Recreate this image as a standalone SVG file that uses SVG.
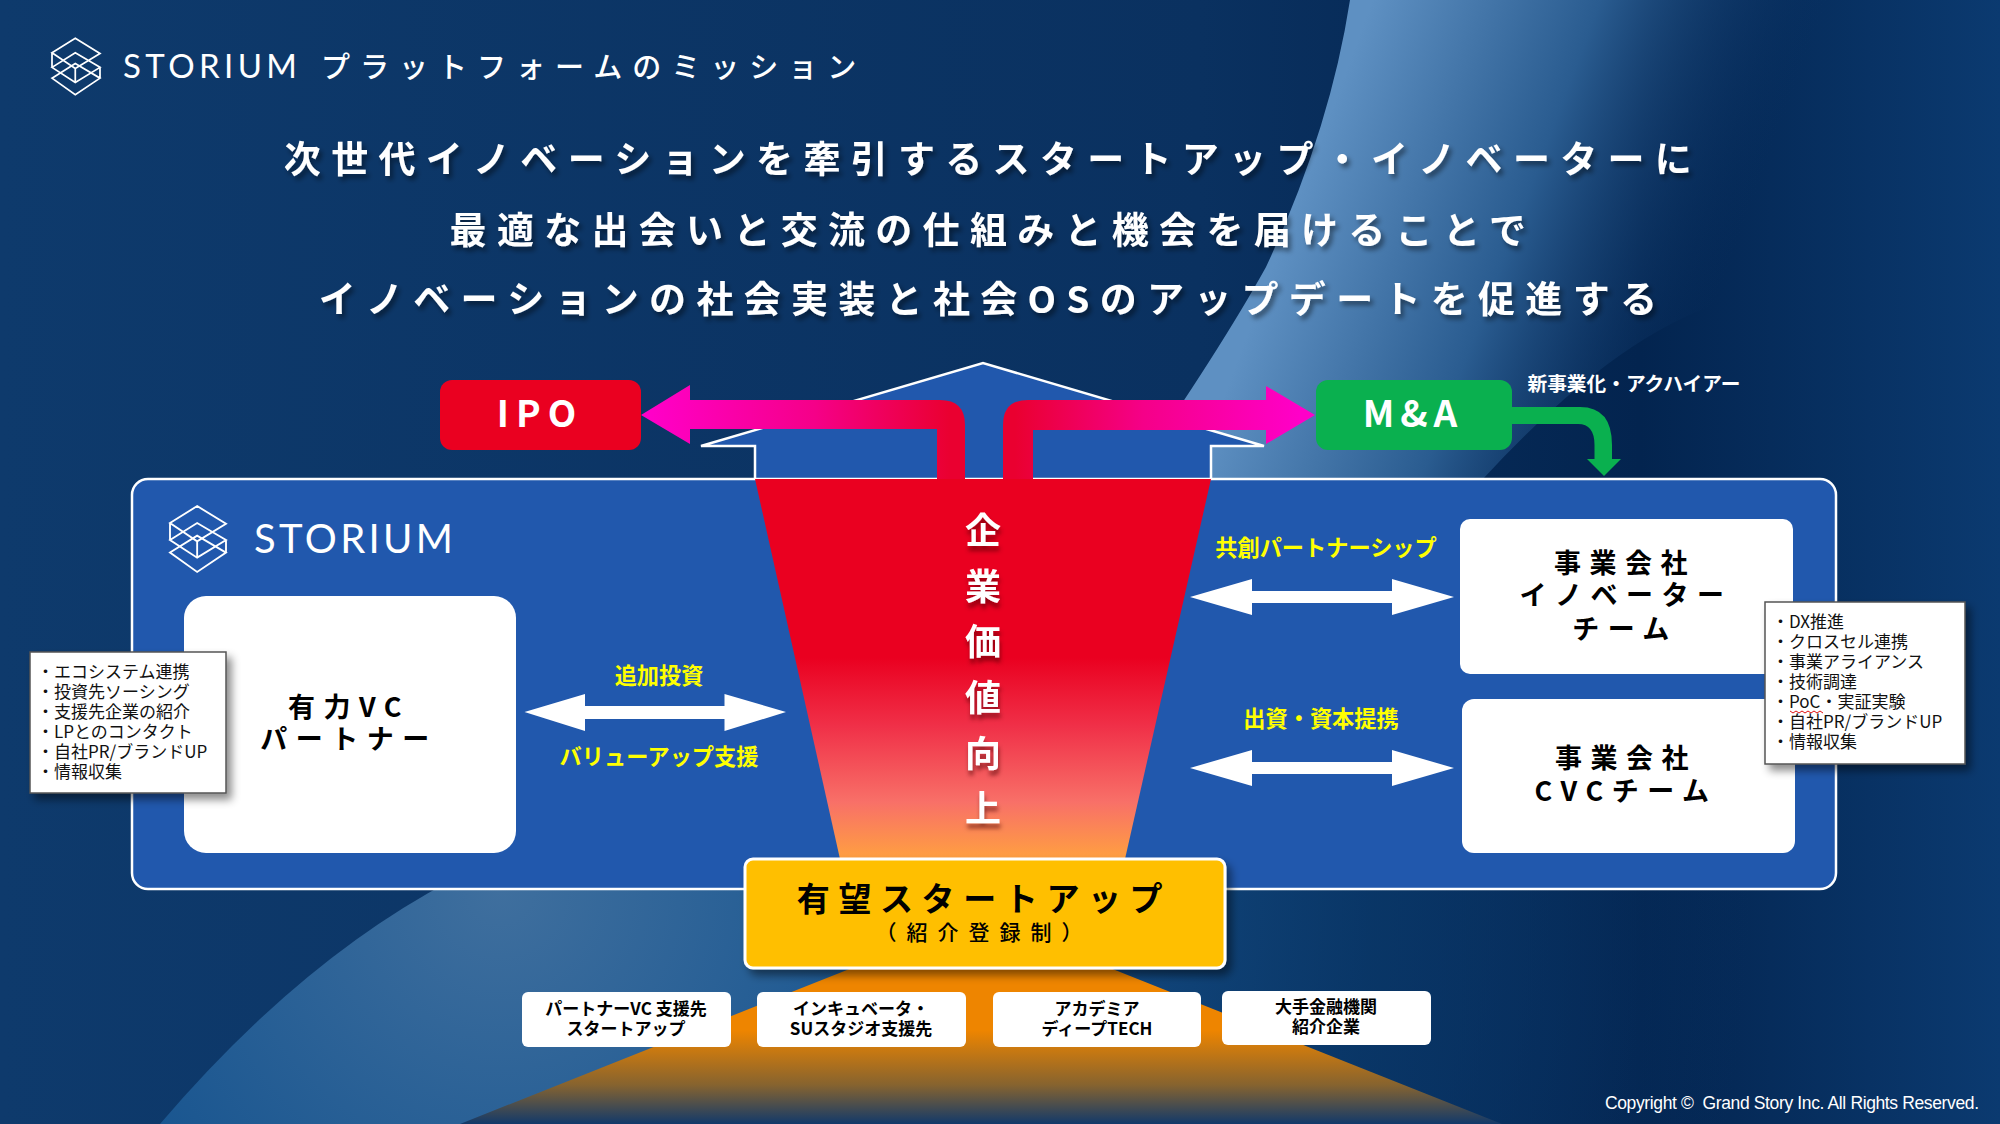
<svg xmlns="http://www.w3.org/2000/svg" width="2000" height="1124" viewBox="0 0 2000 1124">
<defs>
<linearGradient id="bg" x1="0" y1="0" x2="2000" y2="0" gradientUnits="userSpaceOnUse"><stop offset="0" stop-color="#0e3a6c"/><stop offset="0.6" stop-color="#0a3160"/><stop offset="0.82" stop-color="#03244f"/><stop offset="1" stop-color="#0b3a70"/></linearGradient>
<linearGradient id="sw" x1="1350" y1="60" x2="1750" y2="210" gradientUnits="userSpaceOnUse"><stop offset="0" stop-color="#5e90c2"/><stop offset="0.5" stop-color="#2a5c90"/><stop offset="1" stop-color="#0a3264" stop-opacity="0"/></linearGradient>
<radialGradient id="bs" cx="500" cy="890" r="1250" gradientUnits="userSpaceOnUse"><stop offset="0" stop-color="#3f6f9e"/><stop offset="0.33" stop-color="#1a5690"/><stop offset="0.7" stop-color="#0a3a6c" stop-opacity="0.7"/><stop offset="1" stop-color="#0b3a70" stop-opacity="0"/></radialGradient>
<linearGradient id="fun" x1="0" y1="479" x2="0" y2="859" gradientUnits="userSpaceOnUse"><stop offset="0.47" stop-color="#ea0020"/><stop offset="0.65" stop-color="#f03048"/><stop offset="0.85" stop-color="#f87068"/><stop offset="1" stop-color="#ffa040"/></linearGradient>
<linearGradient id="org" x1="0" y1="968" x2="0" y2="1124" gradientUnits="userSpaceOnUse"><stop offset="0.4" stop-color="#ee8500"/><stop offset="0.75" stop-color="#86632f"/><stop offset="1" stop-color="#12396a"/></linearGradient>
<linearGradient id="mgL" x1="650" y1="0" x2="950" y2="0" gradientUnits="userSpaceOnUse"><stop offset="0" stop-color="#ff00c8"/><stop offset="0.55" stop-color="#f50088"/><stop offset="1" stop-color="#ea0030"/></linearGradient>
<linearGradient id="mgR" x1="1300" y1="0" x2="1015" y2="0" gradientUnits="userSpaceOnUse"><stop offset="0" stop-color="#ff00c8"/><stop offset="0.55" stop-color="#f50088"/><stop offset="1" stop-color="#ea0030"/></linearGradient>
<filter id="ts" x="-10%" y="-30%" width="120%" height="170%"><feDropShadow dx="3" dy="4" stdDeviation="2.5" flood-color="#000" flood-opacity="0.45"/></filter>
<filter id="ts2" x="-30%" y="-10%" width="170%" height="120%"><feDropShadow dx="1" dy="5" stdDeviation="2" flood-color="#400" flood-opacity="0.55"/></filter>
<filter id="bx" x="-10%" y="-10%" width="125%" height="125%"><feDropShadow dx="5" dy="6" stdDeviation="4" flood-color="#000" flood-opacity="0.45"/></filter>
<symbol id="logo" viewBox="30 18 165 194" overflow="visible"><g fill="none" stroke="#fff"><path d="M110 18L195 70L110 122L30 68ZM30 118L110 68L195 118L110 170ZM30 155L110 105L195 155L110 212ZM30 68V118M195 118V155M110 122V170"/></g></symbol>
</defs>
<style>
text{font-family:"Noto Sans CJK JP","Noto Sans",sans-serif}
.c{text-anchor:middle}
.t{fill:#fff;font-size:37px;font-weight:700;letter-spacing:10.3px;filter:url(#ts)}
.hd{fill:#000;font-size:27px;font-weight:700;letter-spacing:8.5px;text-anchor:middle}
.y{fill:#ff0;font-size:22.2px;font-weight:700;text-anchor:middle}
.sm{fill:#000;font-size:17px;font-weight:700;text-anchor:middle}
.nt{fill:#111;font-size:17px}
.wa{fill:#fff}
.note{fill:#fff;stroke:#555;stroke-width:1.5;filter:url(#bx)}
.st{font-family:Lato,"Open Sans",sans-serif;font-weight:400;fill:#fff}
</style>
<g id="background">
<rect width="2000" height="1124" fill="url(#bg)"/>
<path d="M1350 0Q1330 130 1266 267Q1220 350 1130 480H1482Q1620 330 1731 300Q1860 220 2000 140V0Z" fill="url(#sw)"/>
<path d="M452 880Q300 960 160 1124H2000V880Z" fill="url(#bs)"/>
<path d="M852 968H1110L1502 1124H460Z" fill="url(#org)"/>
</g>
<g id="header">
<use href="#logo" x="52" y="38" width="48" height="57" stroke-width="6"/>
<text class="st" x="123" y="78" font-size="33" textLength="174" lengthAdjust="spacing">STORIUM</text>
<text x="321" y="78" fill="#fff" font-size="29" font-weight="500" letter-spacing="10">プラットフォームのミッション</text>
</g>
<g id="title">
<text class="t c" x="993" y="173">次世代イノベーションを牽引するスタートアップ・イノベーターに</text>
<text class="t c" x="993" y="244">最適な出会いと交流の仕組みと機会を届けることで</text>
<text class="t c" x="993" y="313">イノベーションの社会実装と社会OSのアップデートを促進する</text>
</g>
<g id="big-arrow"><path d="M755 479V446H701L983 363L1264 446H1211V479" fill="#2158ad" stroke="#fff" stroke-width="2.5"/></g>
<g id="storium-panel">
<rect x="132" y="479" width="1704" height="410" rx="16" fill="#2158ad" stroke="#fff" stroke-width="2.5"/>
<use href="#logo" x="170" y="506" width="56" height="66" stroke-width="5.5"/>
<text class="st" x="254" y="553" font-size="40" textLength="199" lengthAdjust="spacing">STORIUM</text>
</g>
<g id="funnel">
<path d="M755 479H1211L1125 859H840Z" fill="url(#fun)"/>
<text fill="#fff" font-size="36" font-weight="700" class="c" filter="url(#ts2)"><tspan x="983" y="544">企</tspan><tspan x="983" y="600">業</tspan><tspan x="983" y="655">価</tspan><tspan x="983" y="711">値</tspan><tspan x="983" y="767">向</tspan><tspan x="983" y="822">上</tspan></text>
</g>
<g id="connectors">
<path d="M641 415L690 385V400H940Q965 400 965 425V479H937V429H690V444Z" fill="url(#mgL)"/>
<path d="M1315 415L1266 386V400H1028Q1003 400 1003 425V479H1033V430H1266V444Z" fill="url(#mgR)"/>
<path d="M1512 407H1580Q1612 407 1612 445V459H1621L1604 476L1587 459H1594.5V445Q1594.5 424 1578 424H1512Z" fill="#0ab04f"/>
<path class="wa" d="M524.5 712L585 694V706H724.5V694L786 712L724.5 731V719H585V731Z"/>
<path class="wa" d="M1190 597L1252 579V591H1392V579L1454 597L1392 615V603H1252V615Z"/>
<path class="wa" d="M1190 768L1252 750V762H1392V750L1454 768L1392 786V774H1252V786Z"/>
</g>
<g id="labels">
<text class="y" x="659" y="684">追加投資</text>
<text class="y" x="659" y="765">バリューアップ支援</text>
<text class="y" x="1326" y="556">共創パートナーシップ</text>
<text class="y" x="1321" y="727">出資・資本提携</text>
<text x="1634" y="391" fill="#fff" font-size="19.7" font-weight="700" class="c">新事業化・アクハイアー</text>
</g>
<g id="node-ipo"><rect x="440" y="380" width="201" height="70" rx="12" fill="#ea0020"/><text class="c" x="540" y="427" fill="#fff" font-size="37" font-weight="700" letter-spacing="7">IPO</text></g>
<g id="node-ma"><rect x="1316" y="380" width="196" height="70" rx="12" fill="#0ab04f"/><text class="c" x="1413" y="427" fill="#fff" font-size="37" font-weight="700" letter-spacing="6">M&amp;A</text></g>
<g id="node-vc"><rect x="184" y="596" width="332" height="257" rx="22" fill="#fff"/><text class="hd"><tspan x="349" y="717">有力VC</tspan><tspan x="349" y="749">パートナー</tspan></text></g>
<g id="node-innovator"><rect x="1460" y="519" width="333" height="155" rx="10" fill="#fff"/><text class="hd"><tspan x="1625" y="573">事業会社</tspan><tspan x="1626" y="605">イノベーター</tspan><tspan x="1625" y="639">チーム</tspan></text></g>
<g id="node-cvc"><rect x="1462" y="699" width="333" height="154" rx="12" fill="#fff"/><text class="hd"><tspan x="1626" y="768">事業会社</tspan><tspan x="1626" y="801">CVCチーム</tspan></text></g>
<g id="note-left"><rect class="note" x="30" y="652" width="196" height="141"/>
<text class="nt"><tspan x="37" y="678">・エコシステム連携</tspan><tspan x="37" y="698">・投資先ソーシング</tspan><tspan x="37" y="718">・支援先企業の紹介</tspan><tspan x="37" y="738">・LPとのコンタクト</tspan><tspan x="37" y="758">・自社PR/ブランドUP</tspan><tspan x="37" y="778">・情報収集</tspan></text></g>
<g id="note-right"><rect class="note" x="1765" y="602" width="200" height="162"/>
<text class="nt"><tspan x="1772" y="628">・DX推進</tspan><tspan x="1772" y="648">・クロスセル連携</tspan><tspan x="1772" y="668">・事業アライアンス</tspan><tspan x="1772" y="688">・技術調達</tspan><tspan x="1772" y="708">・PoC・実証実験</tspan><tspan x="1772" y="728">・自社PR/ブランドUP</tspan><tspan x="1772" y="748">・情報収集</tspan></text>
<path d="M1790 711l3 2 3-2 3 2 3-2 3 2 3-2 3 2 3-2 3 2 3-2 3 2" fill="none" stroke="#e01010" stroke-width="1"/></g>
<g id="node-startup"><rect x="745" y="859" width="480" height="109" rx="8" fill="#ffbf00" stroke="#fff" stroke-width="3" filter="url(#bx)"/>
<text class="c" x="984" y="911" font-size="33" font-weight="700" letter-spacing="8.6">有望スタートアップ</text>
<text class="c" x="984" y="940" font-size="21" font-weight="500" letter-spacing="10">（紹介登録制）</text></g>
<g id="node-s1"><rect x="522" y="992" width="209" height="55" rx="6" fill="#fff"/><text class="sm"><tspan x="626" y="1015">パートナーVC 支援先</tspan><tspan x="626" y="1035">スタートアップ</tspan></text></g>
<g id="node-s2"><rect x="757" y="992" width="209" height="55" rx="6" fill="#fff"/><text class="sm"><tspan x="861" y="1015">インキュベータ・</tspan><tspan x="861" y="1035">SUスタジオ支援先</tspan></text></g>
<g id="node-s3"><rect x="993" y="992" width="208" height="55" rx="6" fill="#fff"/><text class="sm"><tspan x="1097" y="1015">アカデミア</tspan><tspan x="1097" y="1035">ディープTECH</tspan></text></g>
<g id="node-s4"><rect x="1222" y="991" width="209" height="54" rx="6" fill="#fff"/><text class="sm"><tspan x="1326" y="1013">大手金融機関</tspan><tspan x="1326" y="1033">紹介企業</tspan></text></g>
<text x="1605" y="1109" fill="#fff" font-size="17.5" textLength="374" lengthAdjust="spacing" xml:space="preserve" style="font-family:'Liberation Sans',Arial,sans-serif">Copyright ©  Grand Story Inc. All Rights Reserved.</text>
</svg>
